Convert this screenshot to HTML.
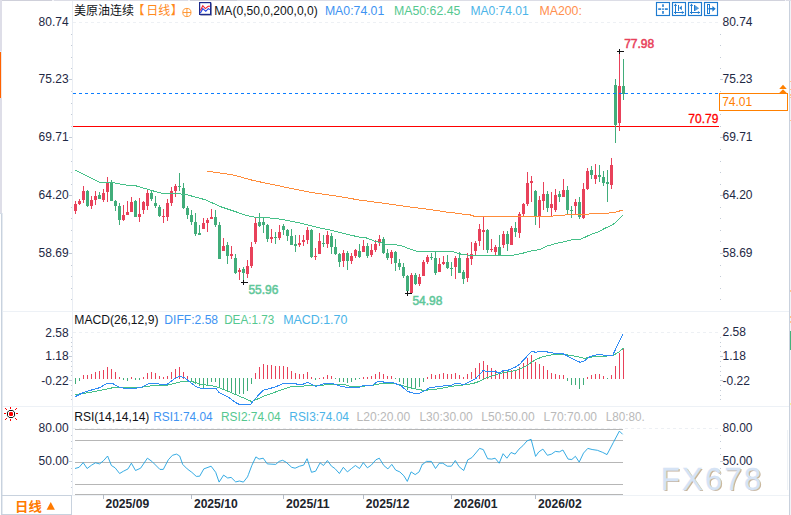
<!DOCTYPE html><html><head><meta charset="utf-8"><title>chart</title>
<style>html,body{margin:0;padding:0;background:#fff;}body{width:791px;height:515px;overflow:hidden;font-family:"Liberation Sans",sans-serif;}svg{display:block}text{font-family:"Liberation Sans",sans-serif;}</style></head><body>
<svg width="791" height="515" viewBox="0 0 791 515" font-family="Liberation Sans, sans-serif">
<rect width="791" height="515" fill="#fff"/>
<g shape-rendering="crispEdges">
<rect x="0" y="0" width="791" height="1" fill="#dcdde6"/>
<rect x="0" y="0" width="52" height="1" fill="#cfd0da"/>
<rect x="52" y="0" width="2" height="1" fill="#f4f4f8"/>
<rect x="190" y="0" width="47" height="1" fill="#cfd0da"/>
<rect x="188" y="0" width="2" height="1" fill="#f4f4f8"/>
<rect x="700" y="0" width="85" height="1" fill="#d2d3dd"/>
<rect x="785" y="0" width="1" height="1" fill="#f4f4f8"/>
<rect x="0" y="0" width="2" height="213" fill="#dedee8"/>
<rect x="0" y="51" width="2" height="1" fill="#e2ecfb"/>
<rect x="0" y="52" width="1" height="46" fill="#ff6200"/><rect x="1" y="52" width="1" height="46" fill="#f1e6e2"/>
<rect x="1" y="213" width="1" height="302" fill="#c8d2de"/><rect x="2" y="213" width="1" height="302" fill="#e6ebf1"/>
<rect x="0" y="213" width="2" height="1" fill="#d3dbe6"/>
<rect x="789" y="1" width="1" height="514" fill="#c9d1dd"/>
<rect x="790" y="1" width="1" height="514" fill="#f1f3f7"/>
<rect x="787" y="430" width="1" height="60" fill="#eef2f6"/>
<rect x="790" y="331" width="1" height="19" fill="#43b37b"/>
<rect x="790" y="81" width="1" height="1" fill="#ffc48c"/>
<rect x="790" y="89" width="1" height="1" fill="#ffc48c"/>
<rect x="790" y="94" width="1" height="2" fill="#ffc48c"/>
<rect x="790" y="97" width="1" height="1" fill="#ffc48c"/>
<rect x="790" y="120" width="1" height="1" fill="#ffc48c"/>
<rect x="790" y="290" width="1" height="2" fill="#ffc48c"/>
<rect x="790" y="316" width="1" height="2" fill="#ffc48c"/>
<rect x="790" y="321" width="1" height="2" fill="#ffc48c"/>
<rect x="790" y="403" width="1" height="2" fill="#f6ee9a"/>
<rect x="72" y="1" width="1" height="495" fill="#e9edf3"/>
<rect x="3" y="311" width="786" height="1" fill="#edf1f6"/>
<rect x="3" y="406" width="786" height="1" fill="#edf1f6"/>
<rect x="72" y="495" width="717" height="1" fill="#eef2f6"/>
<rect x="1" y="495" width="71" height="1" fill="#c8d2de"/>
<rect x="71" y="495" width="1" height="20" fill="#c8d2de"/>
<rect x="1" y="514" width="71" height="1" fill="#c8d2de"/>
<line x1="73" y1="22.5" x2="720" y2="22.5" stroke="#edf0f4" stroke-width="1" stroke-dasharray="3,3"/>
<line x1="73" y1="332.5" x2="720" y2="332.5" stroke="#edf0f4" stroke-width="1" stroke-dasharray="3,3"/>
<line x1="73" y1="428.5" x2="720" y2="428.5" stroke="#edf0f4" stroke-width="1" stroke-dasharray="3,3"/>
<rect x="71" y="34" width="1" height="1" fill="#c3cbd6"/><rect x="720" y="34" width="1" height="1" fill="#c3cbd6"/>
<rect x="71" y="45" width="1" height="1" fill="#c3cbd6"/><rect x="720" y="45" width="1" height="1" fill="#c3cbd6"/>
<rect x="71" y="57" width="1" height="1" fill="#c3cbd6"/><rect x="720" y="57" width="1" height="1" fill="#c3cbd6"/>
<rect x="71" y="68" width="1" height="1" fill="#c3cbd6"/><rect x="720" y="68" width="1" height="1" fill="#c3cbd6"/>
<rect x="69" y="79" width="3" height="1" fill="#c3cbd6"/><rect x="720" y="79" width="3" height="1" fill="#c3cbd6"/>
<rect x="71" y="91" width="1" height="1" fill="#c3cbd6"/><rect x="720" y="91" width="1" height="1" fill="#c3cbd6"/>
<rect x="71" y="103" width="1" height="1" fill="#c3cbd6"/><rect x="720" y="103" width="1" height="1" fill="#c3cbd6"/>
<rect x="71" y="114" width="1" height="1" fill="#c3cbd6"/><rect x="720" y="114" width="1" height="1" fill="#c3cbd6"/>
<rect x="71" y="126" width="1" height="1" fill="#c3cbd6"/><rect x="720" y="126" width="1" height="1" fill="#c3cbd6"/>
<rect x="69" y="137" width="3" height="1" fill="#c3cbd6"/><rect x="720" y="137" width="3" height="1" fill="#c3cbd6"/>
<rect x="71" y="149" width="1" height="1" fill="#c3cbd6"/><rect x="720" y="149" width="1" height="1" fill="#c3cbd6"/>
<rect x="71" y="161" width="1" height="1" fill="#c3cbd6"/><rect x="720" y="161" width="1" height="1" fill="#c3cbd6"/>
<rect x="71" y="172" width="1" height="1" fill="#c3cbd6"/><rect x="720" y="172" width="1" height="1" fill="#c3cbd6"/>
<rect x="71" y="184" width="1" height="1" fill="#c3cbd6"/><rect x="720" y="184" width="1" height="1" fill="#c3cbd6"/>
<rect x="69" y="195" width="3" height="1" fill="#c3cbd6"/><rect x="720" y="195" width="3" height="1" fill="#c3cbd6"/>
<rect x="71" y="207" width="1" height="1" fill="#c3cbd6"/><rect x="720" y="207" width="1" height="1" fill="#c3cbd6"/>
<rect x="71" y="218" width="1" height="1" fill="#c3cbd6"/><rect x="720" y="218" width="1" height="1" fill="#c3cbd6"/>
<rect x="71" y="230" width="1" height="1" fill="#c3cbd6"/><rect x="720" y="230" width="1" height="1" fill="#c3cbd6"/>
<rect x="71" y="241" width="1" height="1" fill="#c3cbd6"/><rect x="720" y="241" width="1" height="1" fill="#c3cbd6"/>
<rect x="69" y="253" width="3" height="1" fill="#c3cbd6"/><rect x="720" y="253" width="3" height="1" fill="#c3cbd6"/>
<rect x="71" y="265" width="1" height="1" fill="#c3cbd6"/><rect x="720" y="265" width="1" height="1" fill="#c3cbd6"/>
<rect x="71" y="276" width="1" height="1" fill="#c3cbd6"/><rect x="720" y="276" width="1" height="1" fill="#c3cbd6"/>
<rect x="71" y="288" width="1" height="1" fill="#c3cbd6"/><rect x="720" y="288" width="1" height="1" fill="#c3cbd6"/>
<rect x="71" y="299" width="1" height="1" fill="#c3cbd6"/><rect x="720" y="299" width="1" height="1" fill="#c3cbd6"/>
<rect x="71" y="337" width="1" height="1" fill="#c3cbd6"/><rect x="720" y="337" width="1" height="1" fill="#c3cbd6"/>
<rect x="71" y="342" width="1" height="1" fill="#c3cbd6"/><rect x="720" y="342" width="1" height="1" fill="#c3cbd6"/>
<rect x="71" y="346" width="1" height="1" fill="#c3cbd6"/><rect x="720" y="346" width="1" height="1" fill="#c3cbd6"/>
<rect x="71" y="351" width="1" height="1" fill="#c3cbd6"/><rect x="720" y="351" width="1" height="1" fill="#c3cbd6"/>
<rect x="69" y="356" width="3" height="1" fill="#c3cbd6"/><rect x="720" y="356" width="3" height="1" fill="#c3cbd6"/>
<rect x="71" y="361" width="1" height="1" fill="#c3cbd6"/><rect x="720" y="361" width="1" height="1" fill="#c3cbd6"/>
<rect x="71" y="366" width="1" height="1" fill="#c3cbd6"/><rect x="720" y="366" width="1" height="1" fill="#c3cbd6"/>
<rect x="71" y="371" width="1" height="1" fill="#c3cbd6"/><rect x="720" y="371" width="1" height="1" fill="#c3cbd6"/>
<rect x="71" y="375" width="1" height="1" fill="#c3cbd6"/><rect x="720" y="375" width="1" height="1" fill="#c3cbd6"/>
<rect x="69" y="380" width="3" height="1" fill="#c3cbd6"/><rect x="720" y="380" width="3" height="1" fill="#c3cbd6"/>
<rect x="71" y="385" width="1" height="1" fill="#c3cbd6"/><rect x="720" y="385" width="1" height="1" fill="#c3cbd6"/>
<rect x="71" y="390" width="1" height="1" fill="#c3cbd6"/><rect x="720" y="390" width="1" height="1" fill="#c3cbd6"/>
<rect x="71" y="395" width="1" height="1" fill="#c3cbd6"/><rect x="720" y="395" width="1" height="1" fill="#c3cbd6"/>
<rect x="71" y="399" width="1" height="1" fill="#c3cbd6"/><rect x="720" y="399" width="1" height="1" fill="#c3cbd6"/>
<rect x="71" y="435" width="1" height="1" fill="#c3cbd6"/><rect x="720" y="435" width="1" height="1" fill="#c3cbd6"/>
<rect x="71" y="441" width="1" height="1" fill="#c3cbd6"/><rect x="720" y="441" width="1" height="1" fill="#c3cbd6"/>
<rect x="71" y="448" width="1" height="1" fill="#c3cbd6"/><rect x="720" y="448" width="1" height="1" fill="#c3cbd6"/>
<rect x="71" y="454" width="1" height="1" fill="#c3cbd6"/><rect x="720" y="454" width="1" height="1" fill="#c3cbd6"/>
<rect x="69" y="461" width="3" height="1" fill="#c3cbd6"/><rect x="720" y="461" width="3" height="1" fill="#c3cbd6"/>
<rect x="71" y="468" width="1" height="1" fill="#c3cbd6"/><rect x="720" y="468" width="1" height="1" fill="#c3cbd6"/>
<rect x="71" y="474" width="1" height="1" fill="#c3cbd6"/><rect x="720" y="474" width="1" height="1" fill="#c3cbd6"/>
<rect x="71" y="481" width="1" height="1" fill="#c3cbd6"/><rect x="720" y="481" width="1" height="1" fill="#c3cbd6"/>
<rect x="71" y="487" width="1" height="1" fill="#c3cbd6"/><rect x="720" y="487" width="1" height="1" fill="#c3cbd6"/>
<rect x="75" y="429" width="548" height="1" fill="#b6b6b6"/>
<rect x="75" y="440" width="548" height="1" fill="#b6b6b6"/>
<rect x="75" y="462" width="548" height="1" fill="#b6b6b6"/>
<rect x="75" y="484" width="548" height="1" fill="#b6b6b6"/>
<rect x="75" y="494" width="548" height="1" fill="#b6b6b6"/>
<rect x="103" y="495" width="1" height="4" fill="#b4bcc8"/>
<rect x="191" y="495" width="1" height="4" fill="#b4bcc8"/>
<rect x="283" y="495" width="1" height="4" fill="#b4bcc8"/>
<rect x="363" y="495" width="1" height="4" fill="#b4bcc8"/>
<rect x="451" y="495" width="1" height="4" fill="#b4bcc8"/>
<rect x="535" y="495" width="1" height="4" fill="#b4bcc8"/>
</g>
<rect x="73" y="126" width="646" height="1" fill="#ff0000" shape-rendering="crispEdges"/>
<g shape-rendering="crispEdges">
<rect x="75" y="201" width="1" height="13" fill="#e8415a"/><rect x="74" y="204" width="3" height="7" fill="#e8415a"/>
<rect x="79" y="199" width="1" height="6" fill="#e8415a"/><rect x="78" y="201" width="3" height="3" fill="#e8415a"/>
<rect x="83" y="186" width="1" height="17" fill="#e8415a"/><rect x="82" y="191" width="3" height="9" fill="#e8415a"/>
<rect x="87" y="190" width="1" height="17" fill="#41ad7a"/><rect x="86" y="191" width="3" height="15" fill="#41ad7a"/>
<rect x="91" y="196" width="1" height="13" fill="#e8415a"/><rect x="90" y="200" width="3" height="6" fill="#e8415a"/>
<rect x="95" y="191" width="1" height="14" fill="#e8415a"/><rect x="94" y="196" width="3" height="4" fill="#e8415a"/>
<rect x="99" y="192" width="1" height="7" fill="#41ad7a"/><rect x="98" y="195" width="3" height="4" fill="#41ad7a"/>
<rect x="103" y="189" width="1" height="13" fill="#e8415a"/><rect x="102" y="193" width="3" height="7" fill="#e8415a"/>
<rect x="107" y="177" width="1" height="25" fill="#e8415a"/><rect x="106" y="183" width="3" height="9" fill="#e8415a"/>
<rect x="111" y="180" width="1" height="21" fill="#41ad7a"/><rect x="110" y="182" width="3" height="19" fill="#41ad7a"/>
<rect x="115" y="200" width="1" height="11" fill="#41ad7a"/><rect x="114" y="201" width="3" height="5" fill="#41ad7a"/>
<rect x="119" y="203" width="1" height="22" fill="#41ad7a"/><rect x="118" y="206" width="3" height="14" fill="#41ad7a"/>
<rect x="123" y="205" width="1" height="16" fill="#e8415a"/><rect x="122" y="215" width="3" height="5" fill="#e8415a"/>
<rect x="127" y="201" width="1" height="14" fill="#e8415a"/><rect x="126" y="212" width="3" height="3" fill="#e8415a"/>
<rect x="131" y="197" width="1" height="15" fill="#e8415a"/><rect x="130" y="202" width="3" height="10" fill="#e8415a"/>
<rect x="135" y="200" width="1" height="17" fill="#41ad7a"/><rect x="134" y="201" width="3" height="16" fill="#41ad7a"/>
<rect x="139" y="198" width="1" height="24" fill="#e8415a"/><rect x="138" y="214" width="3" height="3" fill="#e8415a"/>
<rect x="143" y="201" width="1" height="13" fill="#e8415a"/><rect x="142" y="202" width="3" height="8" fill="#e8415a"/>
<rect x="147" y="190" width="1" height="20" fill="#e8415a"/><rect x="146" y="193" width="3" height="13" fill="#e8415a"/>
<rect x="151" y="190" width="1" height="11" fill="#41ad7a"/><rect x="150" y="193" width="3" height="6" fill="#41ad7a"/>
<rect x="155" y="196" width="1" height="12" fill="#41ad7a"/><rect x="154" y="203" width="3" height="3" fill="#41ad7a"/>
<rect x="159" y="205" width="1" height="12" fill="#41ad7a"/><rect x="158" y="207" width="3" height="9" fill="#41ad7a"/>
<rect x="163" y="209" width="1" height="14" fill="#e8415a"/><rect x="162" y="216" width="3" height="1" fill="#e8415a"/>
<rect x="167" y="199" width="1" height="22" fill="#e8415a"/><rect x="166" y="203" width="3" height="14" fill="#e8415a"/>
<rect x="171" y="187" width="1" height="19" fill="#e8415a"/><rect x="170" y="191" width="3" height="12" fill="#e8415a"/>
<rect x="175" y="184" width="1" height="13" fill="#e8415a"/><rect x="174" y="186" width="3" height="5" fill="#e8415a"/>
<rect x="179" y="173" width="1" height="18" fill="#41ad7a"/><rect x="178" y="186" width="3" height="1" fill="#41ad7a"/>
<rect x="183" y="183" width="1" height="26" fill="#41ad7a"/><rect x="182" y="188" width="3" height="20" fill="#41ad7a"/>
<rect x="187" y="206" width="1" height="13" fill="#41ad7a"/><rect x="186" y="208" width="3" height="7" fill="#41ad7a"/>
<rect x="191" y="210" width="1" height="15" fill="#41ad7a"/><rect x="190" y="215" width="3" height="7" fill="#41ad7a"/>
<rect x="195" y="213" width="1" height="23" fill="#41ad7a"/><rect x="194" y="222" width="3" height="12" fill="#41ad7a"/>
<rect x="199" y="225" width="1" height="10" fill="#41ad7a"/><rect x="198" y="233" width="3" height="2" fill="#41ad7a"/>
<rect x="203" y="218" width="1" height="11" fill="#e8415a"/><rect x="202" y="223" width="3" height="6" fill="#e8415a"/>
<rect x="207" y="218" width="1" height="14" fill="#e8415a"/><rect x="206" y="220" width="3" height="3" fill="#e8415a"/>
<rect x="211" y="209" width="1" height="10" fill="#e8415a"/><rect x="210" y="217" width="3" height="2" fill="#e8415a"/>
<rect x="215" y="210" width="1" height="17" fill="#41ad7a"/><rect x="214" y="217" width="3" height="8" fill="#41ad7a"/>
<rect x="219" y="222" width="1" height="37" fill="#41ad7a"/><rect x="218" y="225" width="3" height="34" fill="#41ad7a"/>
<rect x="223" y="238" width="1" height="13" fill="#e8415a"/><rect x="222" y="246" width="3" height="5" fill="#e8415a"/>
<rect x="227" y="242" width="1" height="22" fill="#41ad7a"/><rect x="226" y="245" width="3" height="11" fill="#41ad7a"/>
<rect x="231" y="246" width="1" height="13" fill="#e8415a"/><rect x="230" y="254" width="3" height="2" fill="#e8415a"/>
<rect x="235" y="254" width="1" height="20" fill="#41ad7a"/><rect x="234" y="258" width="3" height="15" fill="#41ad7a"/>
<rect x="239" y="268" width="1" height="12" fill="#e8415a"/><rect x="238" y="270" width="3" height="2" fill="#e8415a"/>
<rect x="243" y="267" width="1" height="14" fill="#41ad7a"/><rect x="242" y="269" width="3" height="4" fill="#41ad7a"/>
<rect x="247" y="260" width="1" height="18" fill="#e8415a"/><rect x="246" y="266" width="3" height="8" fill="#e8415a"/>
<rect x="251" y="242" width="1" height="26" fill="#e8415a"/><rect x="250" y="247" width="3" height="19" fill="#e8415a"/>
<rect x="255" y="218" width="1" height="26" fill="#e8415a"/><rect x="254" y="223" width="3" height="19" fill="#e8415a"/>
<rect x="259" y="213" width="1" height="14" fill="#41ad7a"/><rect x="258" y="222" width="3" height="4" fill="#41ad7a"/>
<rect x="263" y="218" width="1" height="15" fill="#41ad7a"/><rect x="262" y="222" width="3" height="3" fill="#41ad7a"/>
<rect x="267" y="224" width="1" height="18" fill="#41ad7a"/><rect x="266" y="225" width="3" height="14" fill="#41ad7a"/>
<rect x="271" y="229" width="1" height="14" fill="#e8415a"/><rect x="270" y="237" width="3" height="2" fill="#e8415a"/>
<rect x="275" y="232" width="1" height="12" fill="#41ad7a"/><rect x="274" y="237" width="3" height="1" fill="#41ad7a"/>
<rect x="279" y="225" width="1" height="15" fill="#e8415a"/><rect x="278" y="232" width="3" height="6" fill="#e8415a"/>
<rect x="283" y="224" width="1" height="11" fill="#41ad7a"/><rect x="282" y="226" width="3" height="4" fill="#41ad7a"/>
<rect x="287" y="229" width="1" height="12" fill="#41ad7a"/><rect x="286" y="230" width="3" height="6" fill="#41ad7a"/>
<rect x="291" y="229" width="1" height="16" fill="#41ad7a"/><rect x="290" y="236" width="3" height="9" fill="#41ad7a"/>
<rect x="295" y="235" width="1" height="17" fill="#41ad7a"/><rect x="294" y="244" width="3" height="2" fill="#41ad7a"/>
<rect x="299" y="235" width="1" height="12" fill="#e8415a"/><rect x="298" y="243" width="3" height="2" fill="#e8415a"/>
<rect x="303" y="235" width="1" height="11" fill="#e8415a"/><rect x="302" y="240" width="3" height="2" fill="#e8415a"/>
<rect x="307" y="227" width="1" height="17" fill="#e8415a"/><rect x="306" y="230" width="3" height="10" fill="#e8415a"/>
<rect x="311" y="229" width="1" height="29" fill="#41ad7a"/><rect x="310" y="230" width="3" height="27" fill="#41ad7a"/>
<rect x="315" y="248" width="1" height="12" fill="#e8415a"/><rect x="314" y="256" width="3" height="1" fill="#e8415a"/>
<rect x="319" y="233" width="1" height="21" fill="#e8415a"/><rect x="318" y="241" width="3" height="13" fill="#e8415a"/>
<rect x="323" y="235" width="1" height="12" fill="#41ad7a"/><rect x="322" y="243" width="3" height="1" fill="#41ad7a"/>
<rect x="327" y="231" width="1" height="17" fill="#e8415a"/><rect x="326" y="235" width="3" height="9" fill="#e8415a"/>
<rect x="331" y="233" width="1" height="21" fill="#41ad7a"/><rect x="330" y="236" width="3" height="11" fill="#41ad7a"/>
<rect x="335" y="239" width="1" height="16" fill="#41ad7a"/><rect x="334" y="247" width="3" height="7" fill="#41ad7a"/>
<rect x="339" y="253" width="1" height="14" fill="#41ad7a"/><rect x="338" y="254" width="3" height="8" fill="#41ad7a"/>
<rect x="343" y="250" width="1" height="17" fill="#e8415a"/><rect x="342" y="253" width="3" height="8" fill="#e8415a"/>
<rect x="347" y="251" width="1" height="19" fill="#41ad7a"/><rect x="346" y="253" width="3" height="8" fill="#41ad7a"/>
<rect x="351" y="253" width="1" height="11" fill="#e8415a"/><rect x="350" y="256" width="3" height="5" fill="#e8415a"/>
<rect x="355" y="249" width="1" height="9" fill="#e8415a"/><rect x="354" y="250" width="3" height="6" fill="#e8415a"/>
<rect x="359" y="244" width="1" height="14" fill="#41ad7a"/><rect x="358" y="251" width="3" height="6" fill="#41ad7a"/>
<rect x="363" y="240" width="1" height="12" fill="#e8415a"/><rect x="362" y="246" width="3" height="6" fill="#e8415a"/>
<rect x="367" y="243" width="1" height="15" fill="#41ad7a"/><rect x="366" y="246" width="3" height="10" fill="#41ad7a"/>
<rect x="371" y="244" width="1" height="13" fill="#e8415a"/><rect x="370" y="250" width="3" height="5" fill="#e8415a"/>
<rect x="375" y="240" width="1" height="12" fill="#e8415a"/><rect x="374" y="244" width="3" height="6" fill="#e8415a"/>
<rect x="379" y="235" width="1" height="11" fill="#e8415a"/><rect x="378" y="239" width="3" height="4" fill="#e8415a"/>
<rect x="383" y="237" width="1" height="17" fill="#41ad7a"/><rect x="382" y="239" width="3" height="14" fill="#41ad7a"/>
<rect x="387" y="249" width="1" height="11" fill="#41ad7a"/><rect x="386" y="253" width="3" height="5" fill="#41ad7a"/>
<rect x="391" y="250" width="1" height="14" fill="#e8415a"/><rect x="390" y="252" width="3" height="6" fill="#e8415a"/>
<rect x="395" y="251" width="1" height="20" fill="#41ad7a"/><rect x="394" y="252" width="3" height="11" fill="#41ad7a"/>
<rect x="399" y="259" width="1" height="11" fill="#41ad7a"/><rect x="398" y="263" width="3" height="4" fill="#41ad7a"/>
<rect x="403" y="263" width="1" height="15" fill="#41ad7a"/><rect x="402" y="267" width="3" height="9" fill="#41ad7a"/>
<rect x="407" y="275" width="1" height="18" fill="#41ad7a"/><rect x="406" y="276" width="3" height="15" fill="#41ad7a"/>
<rect x="411" y="273" width="1" height="20" fill="#e8415a"/><rect x="410" y="275" width="3" height="18" fill="#e8415a"/>
<rect x="415" y="273" width="1" height="12" fill="#41ad7a"/><rect x="414" y="275" width="3" height="9" fill="#41ad7a"/>
<rect x="419" y="274" width="1" height="12" fill="#e8415a"/><rect x="418" y="277" width="3" height="7" fill="#e8415a"/>
<rect x="423" y="260" width="1" height="16" fill="#e8415a"/><rect x="422" y="262" width="3" height="14" fill="#e8415a"/>
<rect x="427" y="255" width="1" height="9" fill="#e8415a"/><rect x="426" y="257" width="3" height="5" fill="#e8415a"/>
<rect x="431" y="253" width="1" height="7" fill="#41ad7a"/><rect x="430" y="257" width="3" height="1" fill="#41ad7a"/>
<rect x="435" y="252" width="1" height="23" fill="#41ad7a"/><rect x="434" y="258" width="3" height="15" fill="#41ad7a"/>
<rect x="439" y="258" width="1" height="14" fill="#e8415a"/><rect x="438" y="264" width="3" height="8" fill="#e8415a"/>
<rect x="443" y="256" width="1" height="9" fill="#e8415a"/><rect x="442" y="262" width="3" height="2" fill="#e8415a"/>
<rect x="447" y="255" width="1" height="14" fill="#41ad7a"/><rect x="446" y="262" width="3" height="6" fill="#41ad7a"/>
<rect x="451" y="262" width="1" height="14" fill="#41ad7a"/><rect x="450" y="268" width="3" height="1" fill="#41ad7a"/>
<rect x="455" y="256" width="1" height="23" fill="#e8415a"/><rect x="454" y="258" width="3" height="9" fill="#e8415a"/>
<rect x="459" y="252" width="1" height="21" fill="#41ad7a"/><rect x="458" y="258" width="3" height="15" fill="#41ad7a"/>
<rect x="463" y="270" width="1" height="14" fill="#41ad7a"/><rect x="462" y="272" width="3" height="7" fill="#41ad7a"/>
<rect x="467" y="253" width="1" height="29" fill="#e8415a"/><rect x="466" y="258" width="3" height="20" fill="#e8415a"/>
<rect x="471" y="242" width="1" height="23" fill="#e8415a"/><rect x="470" y="254" width="3" height="5" fill="#e8415a"/>
<rect x="475" y="241" width="1" height="14" fill="#e8415a"/><rect x="474" y="243" width="3" height="8" fill="#e8415a"/>
<rect x="479" y="224" width="1" height="22" fill="#e8415a"/><rect x="478" y="229" width="3" height="12" fill="#e8415a"/>
<rect x="483" y="217" width="1" height="33" fill="#e8415a"/><rect x="482" y="230" width="3" height="2" fill="#e8415a"/>
<rect x="487" y="229" width="1" height="24" fill="#41ad7a"/><rect x="486" y="230" width="3" height="20" fill="#41ad7a"/>
<rect x="491" y="239" width="1" height="13" fill="#e8415a"/><rect x="490" y="249" width="3" height="1" fill="#e8415a"/>
<rect x="495" y="245" width="1" height="10" fill="#e8415a"/><rect x="494" y="247" width="3" height="5" fill="#e8415a"/>
<rect x="499" y="235" width="1" height="20" fill="#41ad7a"/><rect x="498" y="247" width="3" height="8" fill="#41ad7a"/>
<rect x="503" y="231" width="1" height="17" fill="#e8415a"/><rect x="502" y="234" width="3" height="11" fill="#e8415a"/>
<rect x="507" y="231" width="1" height="20" fill="#41ad7a"/><rect x="506" y="234" width="3" height="10" fill="#41ad7a"/>
<rect x="511" y="226" width="1" height="19" fill="#e8415a"/><rect x="510" y="228" width="3" height="17" fill="#e8415a"/>
<rect x="515" y="222" width="1" height="15" fill="#41ad7a"/><rect x="514" y="228" width="3" height="4" fill="#41ad7a"/>
<rect x="519" y="212" width="1" height="26" fill="#e8415a"/><rect x="518" y="214" width="3" height="19" fill="#e8415a"/>
<rect x="523" y="203" width="1" height="14" fill="#e8415a"/><rect x="522" y="204" width="3" height="10" fill="#e8415a"/>
<rect x="527" y="172" width="1" height="34" fill="#e8415a"/><rect x="526" y="183" width="3" height="21" fill="#e8415a"/>
<rect x="531" y="176" width="1" height="26" fill="#e8415a"/><rect x="530" y="181" width="3" height="2" fill="#e8415a"/>
<rect x="535" y="190" width="1" height="35" fill="#41ad7a"/><rect x="534" y="191" width="3" height="25" fill="#41ad7a"/>
<rect x="539" y="196" width="1" height="32" fill="#e8415a"/><rect x="538" y="200" width="3" height="16" fill="#e8415a"/>
<rect x="543" y="182" width="1" height="28" fill="#e8415a"/><rect x="542" y="194" width="3" height="7" fill="#e8415a"/>
<rect x="547" y="191" width="1" height="21" fill="#41ad7a"/><rect x="546" y="194" width="3" height="14" fill="#41ad7a"/>
<rect x="551" y="192" width="1" height="25" fill="#e8415a"/><rect x="550" y="204" width="3" height="4" fill="#e8415a"/>
<rect x="555" y="189" width="1" height="23" fill="#e8415a"/><rect x="554" y="195" width="3" height="15" fill="#e8415a"/>
<rect x="559" y="191" width="1" height="11" fill="#41ad7a"/><rect x="558" y="194" width="3" height="3" fill="#41ad7a"/>
<rect x="563" y="179" width="1" height="18" fill="#e8415a"/><rect x="562" y="190" width="3" height="7" fill="#e8415a"/>
<rect x="567" y="186" width="1" height="28" fill="#41ad7a"/><rect x="566" y="190" width="3" height="20" fill="#41ad7a"/>
<rect x="571" y="206" width="1" height="12" fill="#41ad7a"/><rect x="570" y="210" width="3" height="1" fill="#41ad7a"/>
<rect x="575" y="199" width="1" height="15" fill="#e8415a"/><rect x="574" y="202" width="3" height="4" fill="#e8415a"/>
<rect x="579" y="197" width="1" height="22" fill="#41ad7a"/><rect x="578" y="202" width="3" height="15" fill="#41ad7a"/>
<rect x="583" y="183" width="1" height="36" fill="#e8415a"/><rect x="582" y="189" width="3" height="29" fill="#e8415a"/>
<rect x="587" y="168" width="1" height="22" fill="#e8415a"/><rect x="586" y="171" width="3" height="18" fill="#e8415a"/>
<rect x="591" y="166" width="1" height="13" fill="#41ad7a"/><rect x="590" y="170" width="3" height="5" fill="#41ad7a"/>
<rect x="595" y="164" width="1" height="20" fill="#e8415a"/><rect x="594" y="175" width="3" height="4" fill="#e8415a"/>
<rect x="599" y="165" width="1" height="17" fill="#41ad7a"/><rect x="598" y="175" width="3" height="2" fill="#41ad7a"/>
<rect x="603" y="171" width="1" height="15" fill="#41ad7a"/><rect x="602" y="177" width="3" height="6" fill="#41ad7a"/>
<rect x="607" y="170" width="1" height="32" fill="#41ad7a"/><rect x="606" y="182" width="3" height="2" fill="#41ad7a"/>
<rect x="611" y="158" width="1" height="31" fill="#e8415a"/><rect x="610" y="165" width="3" height="20" fill="#e8415a"/>
<rect x="615" y="79" width="1" height="64" fill="#41ad7a"/><rect x="614" y="85" width="3" height="40" fill="#41ad7a"/>
<rect x="619" y="51" width="1" height="80" fill="#e8415a"/><rect x="618" y="86" width="3" height="37" fill="#e8415a"/>
<rect x="623" y="59" width="1" height="41" fill="#41ad7a"/><rect x="622" y="86" width="3" height="8" fill="#41ad7a"/>
</g>
<polyline points="75.0,170.0 99.3,182.3 113.0,182.6 125.6,185.0 133.2,185.0 150.9,190.3 162.3,193.4 169.6,193.4 185.9,194.3 189.0,195.3 205.5,199.8 220.6,206.7 235.8,211.8 247.2,215.6 254.8,217.2 264.9,217.2 273.3,218.6 280.9,219.1 301.7,223.3 318.2,227.7 330.8,230.2 348.5,234.7 359.9,237.2 365.7,237.7 374.6,241.1 385.3,244.0 400.5,245.3 408.1,248.4 418.2,251.6 453.6,251.6 455.0,252.4 462.6,254.6 470.2,255.3 512.0,255.3 520.8,253.7 530.9,251.1 540.0,249.4 547.6,245.9 556.4,243.4 565.3,241.5 573.5,239.2 581.1,239.0 590.6,234.6 596.9,232.5 605.7,227.9 612.1,225.1 615.9,222.2 622.8,215.0" fill="none" stroke="#45c088" stroke-width="1" stroke-linejoin="round" shape-rendering="crispEdges"/>
<polyline points="207.1,171.1 217.5,172.6 233.9,175.1 252.2,180.2 260.0,181.9 285.3,187.2 310.6,192.3 335.9,196.0 361.1,200.3 386.4,203.6 411.7,207.2 437.0,210.5 450.0,212.6 457.6,213.2 462.6,214.1 469.0,214.5 474.7,216.4 552.0,216.7 553.3,215.5 564.6,215.5 565.9,214.6 588.0,214.6 589.3,213.6 608.2,213.6 609.5,212.4 615.9,212.1 618.4,211.2 622.8,210.4" fill="none" stroke="#ff8c3a" stroke-width="1" stroke-linejoin="round" shape-rendering="crispEdges"/>
<line x1="73" y1="93.5" x2="719" y2="93.5" stroke="#0b7dff" stroke-width="1" stroke-dasharray="3,3" stroke-dashoffset="0" shape-rendering="crispEdges"/>
<path d="M617.0,51.5H624.0M619.5,49.0V54.0" stroke="#111" stroke-width="1" shape-rendering="crispEdges"/>
<path d="M241.0,282.5H248.0M243.5,280.0V285.0" stroke="#111" stroke-width="1" shape-rendering="crispEdges"/>
<path d="M405.0,293.5H412.0M407.5,291.0V296.0" stroke="#111" stroke-width="1" shape-rendering="crispEdges"/>
<text x="624.2" y="47.6" font-size="12" fill="#e8415a" text-anchor="start" font-weight="normal" textLength="30" lengthAdjust="spacingAndGlyphs" stroke="#e8415a" stroke-width="0.5">77.98</text>
<text x="248.4" y="294" font-size="12" fill="#5fc79a" text-anchor="start" font-weight="normal" textLength="30" lengthAdjust="spacingAndGlyphs" stroke="#5fc79a" stroke-width="0.5">55.96</text>
<text x="412.4" y="304.5" font-size="12" fill="#5fc79a" text-anchor="start" font-weight="normal" textLength="30" lengthAdjust="spacingAndGlyphs" stroke="#5fc79a" stroke-width="0.5">54.98</text>
<text x="718.4" y="123" font-size="12" fill="#ff0000" text-anchor="end" font-weight="normal" stroke="#ff0000" stroke-width="0.3">70.79</text>
<g shape-rendering="crispEdges">
<rect x="75" y="378" width="1" height="6" fill="#41ad7a"/>
<rect x="79" y="378" width="1" height="3" fill="#41ad7a"/>
<rect x="83" y="375" width="1" height="4" fill="#e8415a"/>
<rect x="87" y="375" width="1" height="4" fill="#e8415a"/>
<rect x="91" y="374" width="1" height="5" fill="#e8415a"/>
<rect x="95" y="372" width="1" height="7" fill="#e8415a"/>
<rect x="99" y="371" width="1" height="8" fill="#e8415a"/>
<rect x="103" y="370" width="1" height="9" fill="#e8415a"/>
<rect x="107" y="367" width="1" height="12" fill="#e8415a"/>
<rect x="111" y="369" width="1" height="10" fill="#e8415a"/>
<rect x="115" y="372" width="1" height="7" fill="#e8415a"/>
<rect x="119" y="377" width="1" height="2" fill="#e8415a"/>
<rect x="123" y="378" width="1" height="2" fill="#41ad7a"/>
<rect x="127" y="378" width="1" height="3" fill="#41ad7a"/>
<rect x="131" y="377" width="1" height="2" fill="#e8415a"/>
<rect x="135" y="378" width="1" height="2" fill="#41ad7a"/>
<rect x="139" y="378" width="1" height="2" fill="#41ad7a"/>
<rect x="143" y="377" width="1" height="2" fill="#e8415a"/>
<rect x="147" y="373" width="1" height="6" fill="#e8415a"/>
<rect x="151" y="372" width="1" height="7" fill="#e8415a"/>
<rect x="155" y="373" width="1" height="6" fill="#e8415a"/>
<rect x="159" y="376" width="1" height="3" fill="#e8415a"/>
<rect x="163" y="377" width="1" height="2" fill="#e8415a"/>
<rect x="167" y="376" width="1" height="3" fill="#e8415a"/>
<rect x="171" y="372" width="1" height="7" fill="#e8415a"/>
<rect x="175" y="369" width="1" height="10" fill="#e8415a"/>
<rect x="179" y="367" width="1" height="12" fill="#e8415a"/>
<rect x="183" y="372" width="1" height="7" fill="#e8415a"/>
<rect x="187" y="376" width="1" height="3" fill="#e8415a"/>
<rect x="191" y="378" width="1" height="4" fill="#41ad7a"/>
<rect x="195" y="378" width="1" height="6" fill="#41ad7a"/>
<rect x="199" y="378" width="1" height="8" fill="#41ad7a"/>
<rect x="203" y="378" width="1" height="10" fill="#41ad7a"/>
<rect x="207" y="378" width="1" height="7" fill="#41ad7a"/>
<rect x="211" y="378" width="1" height="4" fill="#41ad7a"/>
<rect x="215" y="378" width="1" height="4" fill="#41ad7a"/>
<rect x="219" y="378" width="1" height="10" fill="#41ad7a"/>
<rect x="223" y="378" width="1" height="12" fill="#41ad7a"/>
<rect x="227" y="378" width="1" height="13" fill="#41ad7a"/>
<rect x="231" y="378" width="1" height="15" fill="#41ad7a"/>
<rect x="235" y="378" width="1" height="16" fill="#41ad7a"/>
<rect x="239" y="378" width="1" height="16" fill="#41ad7a"/>
<rect x="243" y="378" width="1" height="16" fill="#41ad7a"/>
<rect x="247" y="378" width="1" height="13" fill="#41ad7a"/>
<rect x="251" y="378" width="1" height="6" fill="#41ad7a"/>
<rect x="255" y="373" width="1" height="6" fill="#e8415a"/>
<rect x="259" y="367" width="1" height="12" fill="#e8415a"/>
<rect x="263" y="364" width="1" height="15" fill="#e8415a"/>
<rect x="267" y="365" width="1" height="14" fill="#e8415a"/>
<rect x="271" y="365" width="1" height="14" fill="#e8415a"/>
<rect x="275" y="366" width="1" height="13" fill="#e8415a"/>
<rect x="279" y="366" width="1" height="13" fill="#e8415a"/>
<rect x="283" y="366" width="1" height="13" fill="#e8415a"/>
<rect x="287" y="367" width="1" height="12" fill="#e8415a"/>
<rect x="291" y="371" width="1" height="8" fill="#e8415a"/>
<rect x="295" y="373" width="1" height="6" fill="#e8415a"/>
<rect x="299" y="374" width="1" height="5" fill="#e8415a"/>
<rect x="303" y="374" width="1" height="5" fill="#e8415a"/>
<rect x="307" y="372" width="1" height="7" fill="#e8415a"/>
<rect x="311" y="377" width="1" height="2" fill="#e8415a"/>
<rect x="315" y="378" width="1" height="2" fill="#41ad7a"/>
<rect x="319" y="378" width="1" height="1" fill="#e8415a"/>
<rect x="323" y="377" width="1" height="2" fill="#e8415a"/>
<rect x="327" y="375" width="1" height="4" fill="#e8415a"/>
<rect x="331" y="376" width="1" height="3" fill="#e8415a"/>
<rect x="335" y="378" width="1" height="1" fill="#41ad7a"/>
<rect x="339" y="378" width="1" height="4" fill="#41ad7a"/>
<rect x="343" y="378" width="1" height="4" fill="#41ad7a"/>
<rect x="347" y="378" width="1" height="5" fill="#41ad7a"/>
<rect x="351" y="378" width="1" height="4" fill="#41ad7a"/>
<rect x="355" y="378" width="1" height="2" fill="#41ad7a"/>
<rect x="359" y="378" width="1" height="1" fill="#41ad7a"/>
<rect x="363" y="377" width="1" height="2" fill="#e8415a"/>
<rect x="367" y="377" width="1" height="2" fill="#e8415a"/>
<rect x="371" y="376" width="1" height="3" fill="#e8415a"/>
<rect x="375" y="374" width="1" height="5" fill="#e8415a"/>
<rect x="379" y="372" width="1" height="7" fill="#e8415a"/>
<rect x="383" y="374" width="1" height="5" fill="#e8415a"/>
<rect x="387" y="376" width="1" height="3" fill="#e8415a"/>
<rect x="391" y="376" width="1" height="3" fill="#e8415a"/>
<rect x="395" y="378" width="1" height="1" fill="#41ad7a"/>
<rect x="399" y="378" width="1" height="4" fill="#41ad7a"/>
<rect x="403" y="378" width="1" height="6" fill="#41ad7a"/>
<rect x="407" y="378" width="1" height="12" fill="#41ad7a"/>
<rect x="411" y="378" width="1" height="11" fill="#41ad7a"/>
<rect x="415" y="378" width="1" height="11" fill="#41ad7a"/>
<rect x="419" y="378" width="1" height="9" fill="#41ad7a"/>
<rect x="423" y="378" width="1" height="4" fill="#41ad7a"/>
<rect x="427" y="377" width="1" height="2" fill="#e8415a"/>
<rect x="431" y="374" width="1" height="5" fill="#e8415a"/>
<rect x="435" y="375" width="1" height="4" fill="#e8415a"/>
<rect x="439" y="374" width="1" height="5" fill="#e8415a"/>
<rect x="443" y="373" width="1" height="6" fill="#e8415a"/>
<rect x="447" y="374" width="1" height="5" fill="#e8415a"/>
<rect x="451" y="374" width="1" height="5" fill="#e8415a"/>
<rect x="455" y="373" width="1" height="6" fill="#e8415a"/>
<rect x="459" y="375" width="1" height="4" fill="#e8415a"/>
<rect x="463" y="377" width="1" height="2" fill="#e8415a"/>
<rect x="467" y="374" width="1" height="5" fill="#e8415a"/>
<rect x="471" y="372" width="1" height="7" fill="#e8415a"/>
<rect x="475" y="368" width="1" height="11" fill="#e8415a"/>
<rect x="479" y="363" width="1" height="16" fill="#e8415a"/>
<rect x="483" y="361" width="1" height="18" fill="#e8415a"/>
<rect x="487" y="365" width="1" height="14" fill="#e8415a"/>
<rect x="491" y="368" width="1" height="11" fill="#e8415a"/>
<rect x="495" y="370" width="1" height="9" fill="#e8415a"/>
<rect x="499" y="374" width="1" height="5" fill="#e8415a"/>
<rect x="503" y="371" width="1" height="8" fill="#e8415a"/>
<rect x="507" y="372" width="1" height="7" fill="#e8415a"/>
<rect x="511" y="370" width="1" height="9" fill="#e8415a"/>
<rect x="515" y="370" width="1" height="9" fill="#e8415a"/>
<rect x="519" y="367" width="1" height="12" fill="#e8415a"/>
<rect x="523" y="363" width="1" height="16" fill="#e8415a"/>
<rect x="527" y="358" width="1" height="21" fill="#e8415a"/>
<rect x="531" y="355" width="1" height="24" fill="#e8415a"/>
<rect x="535" y="362" width="1" height="17" fill="#e8415a"/>
<rect x="539" y="364" width="1" height="15" fill="#e8415a"/>
<rect x="543" y="366" width="1" height="13" fill="#e8415a"/>
<rect x="547" y="370" width="1" height="9" fill="#e8415a"/>
<rect x="551" y="373" width="1" height="6" fill="#e8415a"/>
<rect x="555" y="374" width="1" height="5" fill="#e8415a"/>
<rect x="559" y="375" width="1" height="4" fill="#e8415a"/>
<rect x="563" y="375" width="1" height="4" fill="#e8415a"/>
<rect x="567" y="378" width="1" height="3" fill="#41ad7a"/>
<rect x="571" y="378" width="1" height="7" fill="#41ad7a"/>
<rect x="575" y="378" width="1" height="7" fill="#41ad7a"/>
<rect x="579" y="378" width="1" height="11" fill="#41ad7a"/>
<rect x="583" y="378" width="1" height="7" fill="#41ad7a"/>
<rect x="587" y="377" width="1" height="2" fill="#e8415a"/>
<rect x="591" y="375" width="1" height="4" fill="#e8415a"/>
<rect x="595" y="374" width="1" height="5" fill="#e8415a"/>
<rect x="599" y="374" width="1" height="5" fill="#e8415a"/>
<rect x="603" y="376" width="1" height="3" fill="#e8415a"/>
<rect x="607" y="378" width="1" height="1" fill="#41ad7a"/>
<rect x="611" y="375" width="1" height="4" fill="#e8415a"/>
<rect x="615" y="366" width="1" height="13" fill="#e8415a"/>
<rect x="619" y="353" width="1" height="26" fill="#e8415a"/>
<rect x="623" y="348" width="1" height="31" fill="#e8415a"/>
</g>
<polyline points="75.3,394.5 91.2,392.2 112.5,387.8 140.8,387.4 153.2,385.5 167.3,385.1 183.3,381.2 192.1,381.6 201.0,384.2 209.8,385.5 215.6,386.4 228.0,391.3 240.4,396.6 251.9,401.6 263.4,396.3 275.8,391.9 290.0,386.9 304.0,386.0 318.3,385.5 332.4,384.2 344.8,384.6 348.8,386.0 361.2,386.4 373.6,385.1 382.5,383.4 394.9,383.4 405.5,386.4 417.9,389.6 425.0,390.4 435.6,389.2 446.2,387.4 456.8,385.5 467.4,384.6 474.5,383.0 479.8,381.2 487.1,377.6 499.3,373.5 515.5,370.5 525.6,366.5 535.7,359.4 543.8,356.4 551.9,354.9 564.0,354.3 576.1,356.4 584.2,358.4 592.3,357.0 600.4,356.4 612.5,355.7 618.6,352.3 623.7,347.9" fill="none" stroke="#45c088" stroke-width="1" stroke-linejoin="round" shape-rendering="crispEdges"/>
<polyline points="75.3,396.6 83.3,392.6 91.2,390.1 99.2,387.8 107.2,383.4 112.5,383.4 118.7,386.9 123.1,388.1 128.4,388.1 134.6,388.1 140.8,387.8 149.6,383.4 156.7,383.4 162.0,384.6 167.3,384.2 174.4,378.9 179.7,376.3 185.0,378.1 190.4,382.5 195.7,386.4 202.7,389.0 209.8,388.3 215.6,388.1 219.2,392.7 228.0,397.0 236.0,402.8 238.6,404.1 243.9,405.0 251.0,404.1 252.8,401.1 263.4,390.1 275.8,386.9 282.9,383.4 293.5,383.0 297.0,384.2 303.2,384.2 307.7,382.1 315.6,386.4 325.4,383.4 332.4,383.4 341.3,386.4 347.0,387.4 359.5,387.4 363.0,385.7 371.9,385.7 378.0,381.2 381.6,381.2 386.0,383.0 391.3,382.1 401.0,385.7 407.3,391.3 414.3,393.5 418.8,393.5 425.0,390.4 430.3,387.4 436.5,386.9 446.2,385.5 451.5,385.1 455.9,383.0 463.9,384.6 471.0,381.2 476.3,378.1 483.1,370.5 487.1,371.5 495.2,371.5 499.3,373.1 503.3,370.5 507.4,370.5 515.5,367.1 519.5,364.4 531.6,351.3 535.7,352.3 541.7,351.3 545.8,351.3 549.8,352.9 562.0,353.3 566.0,355.3 572.1,358.4 580.2,362.4 584.2,361.0 590.3,356.4 598.4,354.3 604.4,355.3 612.5,355.7 622.7,334.3" fill="none" stroke="#2f8bf5" stroke-width="1" stroke-linejoin="round" shape-rendering="crispEdges"/>
<polyline points="75.0,468.5 79.1,467.3 83.2,462.6 87.1,468.5 91.6,465.1 95.5,462.8 99.6,463.9 103.7,460.5 107.6,456.0 111.4,465.5 115.1,467.8 119.6,473.5 123.5,471.2 128.0,468.9 131.4,463.2 135.5,470.5 140.6,468.2 147.4,458.2 151.9,461.4 159.9,469.4 163.3,469.4 168.3,459.8 172.4,455.3 176.5,454.1 179.7,456.0 182.7,464.4 187.2,468.9 191.8,472.3 196.3,476.4 199.7,476.2 203.8,468.9 211.1,466.2 215.7,472.3 219.1,482.1 223.6,475.1 227.7,478.0 231.1,477.4 235.7,481.9 239.5,481.0 243.4,482.1 247.5,476.9 248.4,474.6 251.8,465.5 255.9,456.9 259.1,459.1 263.2,458.2 267.3,463.9 275.7,464.4 279.1,461.4 282.6,460.3 286.0,462.1 291.7,467.3 295.1,468.2 299.6,466.2 303.7,465.1 307.1,458.7 311.5,472.3 315.6,471.2 320.1,462.8 323.5,465.5 327.4,460.5 331.5,466.2 334.9,468.5 339.4,473.5 343.3,467.3 347.4,471.9 351.5,468.5 355.4,465.5 359.5,468.5 363.3,462.6 367.4,467.8 371.3,465.1 375.9,459.8 379.3,458.2 383.8,465.5 387.9,468.9 391.8,464.4 395.7,470.1 399.8,471.9 403.9,475.8 407.3,481.4 411.1,471.9 415.2,474.6 419.1,471.9 422.5,463.9 422.7,464.4 426.4,461.4 431.4,461.4 435.5,468.5 439.3,463.2 442.8,463.2 447.3,466.2 451.4,466.2 455.3,460.5 459.1,466.7 463.7,470.5 467.8,459.8 471.9,457.6 475.8,453.0 479.6,448.4 483.3,449.6 487.6,458.7 491.7,459.1 495.1,458.2 499.2,463.2 503.1,453.7 506.9,458.2 511.0,452.5 515.1,454.1 519.0,449.1 522.9,445.7 527.0,440.9 531.1,439.3 535.6,456.4 538.8,451.9 542.9,449.1 547.4,455.3 551.5,454.1 555.4,451.4 559.3,451.9 562.9,450.0 568.1,459.1 571.8,459.5 575.4,456.3 579.2,462.1 583.5,453.1 587.8,448.4 592.1,449.5 597.4,450.3 602.7,452.4 607.0,454.6 613.4,442.4 619.4,431.1 622.6,434.3" fill="none" stroke="#1fa2e0" stroke-width="0.9" stroke-linejoin="round" />
<text x="68.6" y="26" font-size="12" fill="#1e2844" text-anchor="end" font-weight="normal" >80.74</text>
<text x="722.5" y="26" font-size="12" fill="#1e2844" text-anchor="start" font-weight="normal" >80.74</text>
<text x="68.6" y="83" font-size="12" fill="#1e2844" text-anchor="end" font-weight="normal" >75.23</text>
<text x="722.5" y="83" font-size="12" fill="#1e2844" text-anchor="start" font-weight="normal" >75.23</text>
<text x="68.6" y="141" font-size="12" fill="#1e2844" text-anchor="end" font-weight="normal" >69.71</text>
<text x="722.5" y="141" font-size="12" fill="#1e2844" text-anchor="start" font-weight="normal" >69.71</text>
<text x="68.6" y="199" font-size="12" fill="#1e2844" text-anchor="end" font-weight="normal" >64.20</text>
<text x="722.5" y="199" font-size="12" fill="#1e2844" text-anchor="start" font-weight="normal" >64.20</text>
<text x="68.6" y="257" font-size="12" fill="#1e2844" text-anchor="end" font-weight="normal" >58.69</text>
<text x="722.5" y="257" font-size="12" fill="#1e2844" text-anchor="start" font-weight="normal" >58.69</text>
<text x="68.6" y="336.5" font-size="12" fill="#1e2844" text-anchor="end" font-weight="normal" >2.58</text>
<text x="722.5" y="335.7" font-size="12" fill="#1e2844" text-anchor="start" font-weight="normal" >2.58</text>
<text x="68.6" y="360.4" font-size="12" fill="#1e2844" text-anchor="end" font-weight="normal" >1.18</text>
<text x="722.5" y="360.4" font-size="12" fill="#1e2844" text-anchor="start" font-weight="normal" >1.18</text>
<text x="68.6" y="384.9" font-size="12" fill="#1e2844" text-anchor="end" font-weight="normal" >-0.22</text>
<text x="722.5" y="384.9" font-size="12" fill="#1e2844" text-anchor="start" font-weight="normal" >-0.22</text>
<text x="68.6" y="432.3" font-size="12" fill="#1e2844" text-anchor="end" font-weight="normal" >80.00</text>
<text x="722.5" y="432.3" font-size="12" fill="#1e2844" text-anchor="start" font-weight="normal" >80.00</text>
<text x="68.6" y="465.3" font-size="12" fill="#1e2844" text-anchor="end" font-weight="normal" >50.00</text>
<text x="722.5" y="465.3" font-size="12" fill="#1e2844" text-anchor="start" font-weight="normal" >50.00</text>
<rect x="719.5" y="93.5" width="68" height="17" fill="#fff" stroke="#ff8000" stroke-width="1" shape-rendering="crispEdges"/>
<text x="722.2" y="105.9" font-size="12" fill="#ff8000" text-anchor="start" font-weight="normal" >74.01</text>
<path d="M779.2,88.9L783,84.8L786.8,88.9ZM779,93.2L783,89.2L787,93.2Z" fill="#ff8000"/>
<text x="105.4" y="508" font-size="12" fill="#20242c" text-anchor="start" font-weight="bold" textLength="43.8" lengthAdjust="spacingAndGlyphs" >2025/09</text>
<text x="193.9" y="508" font-size="12" fill="#20242c" text-anchor="start" font-weight="bold" textLength="43.8" lengthAdjust="spacingAndGlyphs" >2025/10</text>
<text x="285.9" y="508" font-size="12" fill="#20242c" text-anchor="start" font-weight="bold" textLength="43.8" lengthAdjust="spacingAndGlyphs" >2025/11</text>
<text x="365.7" y="508" font-size="12" fill="#20242c" text-anchor="start" font-weight="bold" textLength="43.8" lengthAdjust="spacingAndGlyphs" >2025/12</text>
<text x="453.8" y="508" font-size="12" fill="#20242c" text-anchor="start" font-weight="bold" textLength="43.8" lengthAdjust="spacingAndGlyphs" >2026/01</text>
<text x="538" y="508" font-size="12" fill="#20242c" text-anchor="start" font-weight="bold" textLength="43.8" lengthAdjust="spacingAndGlyphs" >2026/02</text>
<text x="74" y="15.3" font-size="12" fill="#101216" text-anchor="start" font-weight="normal" textLength="60" lengthAdjust="spacingAndGlyphs" style="font-family:'Liberation Sans','Noto Sans CJK SC',sans-serif">美原油连续</text>
<text x="132.4" y="15.3" font-size="12" fill="#ff8a1c" text-anchor="start" font-weight="normal" style="font-family:'Liberation Sans','Noto Sans CJK SC',sans-serif">【</text>
<text x="146.2" y="15.3" font-size="12" fill="#ff8a1c" text-anchor="start" font-weight="normal" textLength="24" lengthAdjust="spacingAndGlyphs" style="font-family:'Liberation Sans','Noto Sans CJK SC',sans-serif">日线</text>
<text x="170.75" y="15.3" font-size="12" fill="#ff8a1c" text-anchor="start" font-weight="normal" style="font-family:'Liberation Sans','Noto Sans CJK SC',sans-serif">】</text>
<g stroke="#ff8a1c" stroke-width="0.85" fill="none"><circle cx="186.9" cy="12.5" r="4.1"/><path d="M182.8,12.5H191M186.9,8.4V16.6"/></g>
<g><rect x="200.3" y="3.3" width="11.6" height="12.4" fill="#2a2f6a" opacity="0.55"/><rect x="199.6" y="2.6" width="11" height="11.8" fill="#fff" stroke="#1c2a8c" stroke-width="1.2"/><polyline points="200.4,10.6 202.8,5.7 205.3,8.6 208.2,6.3 210,6.3" fill="none" stroke="#f02030" stroke-width="1.1"/><polyline points="200.4,13.1 202.8,8.7 205.8,11.3 208.3,8.6 210,9.6" fill="none" stroke="#2040e0" stroke-width="1.1"/></g>
<text x="214.3" y="14.5" font-size="12" fill="#101216" text-anchor="start" font-weight="normal" textLength="103.4" lengthAdjust="spacingAndGlyphs" >MA(0,50,0,200,0,0)</text>
<text x="324.9" y="14.5" font-size="12" fill="#3e93f2" text-anchor="start" font-weight="normal" textLength="59.4" lengthAdjust="spacingAndGlyphs" >MA0:74.01</text>
<text x="393.9" y="14.5" font-size="12" fill="#55c890" text-anchor="start" font-weight="normal" textLength="66.5" lengthAdjust="spacingAndGlyphs" >MA50:62.45</text>
<text x="470.4" y="14.5" font-size="12" fill="#4bb4e8" text-anchor="start" font-weight="normal" textLength="58.4" lengthAdjust="spacingAndGlyphs" >MA0:74.01</text>
<text x="539.4" y="14.5" font-size="12" fill="#ff8f4e" text-anchor="start" font-weight="normal" textLength="42.5" lengthAdjust="spacingAndGlyphs" >MA200:</text>
<g>
<rect x="656.5" y="2.5" width="13" height="13" fill="#fff" stroke="#1e7bd0" stroke-width="1.15"/>
<rect x="672.5" y="2.5" width="13" height="13" fill="#fff" stroke="#1e7bd0" stroke-width="1.15"/>
<rect x="688.5" y="2.5" width="13" height="13" fill="#fff" stroke="#1e7bd0" stroke-width="1.15"/>
<rect x="704.5" y="2.5" width="13" height="13" fill="#fff" stroke="#1e7bd0" stroke-width="1.15"/>
<g fill="#1e7bd0"><rect x="658.2" y="8.3" width="3" height="1.6"/><rect x="664.8" y="8.3" width="3" height="1.6"/><rect x="662.2" y="4.3" width="1.6" height="2.6"/><rect x="662.2" y="11" width="1.6" height="2.8"/><rect x="662.2" y="8.3" width="1.6" height="1.6"/></g>
<g fill="#1e7bd0" shape-rendering="crispEdges"><rect x="675" y="4" width="1" height="10"/><rect x="674" y="12" width="10" height="1"/></g><path d="M675.5,3.6L673.9,5.9H677.1Z M684.2,12.5L681.9,10.9V14.1Z" fill="#1e7bd0"/>
<g fill="#1e7bd0"><rect x="678" y="5.3" width="1" height="5.2" shape-rendering="crispEdges"/><path d="M679.2,7.9L681.8,5.6V10.2Z"/></g>
<g fill="#1e7bd0" shape-rendering="crispEdges"><rect x="691" y="4" width="1" height="10"/><rect x="690" y="12" width="10" height="1"/></g><path d="M691.5,3.6L689.9,5.9H693.1Z M700.2,12.5L697.9,10.9V14.1Z" fill="#1e7bd0"/>
<g fill="#1e7bd0"><rect x="694" y="5.3" width="1" height="5.6" shape-rendering="crispEdges"/><path d="M695,5.3L699.2,8.2L695,11.1Z" fill-opacity="0.75"/></g>
<rect x="707.5" y="4.5" width="2" height="9" shape-rendering="crispEdges" fill="#fff" stroke="#1e7bd0" stroke-width="1"/><path d="M708.4,8H712.4V6L715.7,8.8L712.4,11.7V9.6H708.4Z" fill="#1e7bd0"/>
</g>
<text x="74.3" y="324.4" font-size="12" fill="#101216" text-anchor="start" font-weight="normal" textLength="84.2" lengthAdjust="spacingAndGlyphs" >MACD(26,12,9)</text>
<text x="164.3" y="324.4" font-size="12" fill="#3e93f2" text-anchor="start" font-weight="normal" textLength="53.8" lengthAdjust="spacingAndGlyphs" >DIFF:2.58</text>
<text x="224.2" y="324.4" font-size="12" fill="#55c890" text-anchor="start" font-weight="normal" textLength="50" lengthAdjust="spacingAndGlyphs" >DEA:1.73</text>
<text x="283.2" y="324.4" font-size="12" fill="#4bb4e8" text-anchor="start" font-weight="normal" textLength="64.2" lengthAdjust="spacingAndGlyphs" >MACD:1.70</text>
<text x="74.2" y="421" font-size="12" fill="#101216" text-anchor="start" font-weight="normal" textLength="75.2" lengthAdjust="spacingAndGlyphs" >RSI(14,14,14)</text>
<text x="153.2" y="421" font-size="12" fill="#3e93f2" text-anchor="start" font-weight="normal" textLength="59.4" lengthAdjust="spacingAndGlyphs" >RSI1:74.04</text>
<text x="221" y="421" font-size="12" fill="#55c890" text-anchor="start" font-weight="normal" textLength="59.7" lengthAdjust="spacingAndGlyphs" >RSI2:74.04</text>
<text x="289.3" y="421" font-size="12" fill="#4bb4e8" text-anchor="start" font-weight="normal" textLength="59.6" lengthAdjust="spacingAndGlyphs" >RSI3:74.04</text>
<text x="356.5" y="421" font-size="12" fill="#b9b9b9" text-anchor="start" font-weight="normal" textLength="53.8" lengthAdjust="spacingAndGlyphs" >L20:20.00</text>
<text x="419.4" y="421" font-size="12" fill="#b9b9b9" text-anchor="start" font-weight="normal" textLength="53.4" lengthAdjust="spacingAndGlyphs" >L30:30.00</text>
<text x="481.3" y="421" font-size="12" fill="#b9b9b9" text-anchor="start" font-weight="normal" textLength="53.4" lengthAdjust="spacingAndGlyphs" >L50:50.00</text>
<text x="543.6" y="421" font-size="12" fill="#b9b9b9" text-anchor="start" font-weight="normal" textLength="53.4" lengthAdjust="spacingAndGlyphs" >L70:70.00</text>
<text x="605.8" y="421" font-size="12" fill="#b9b9b9" text-anchor="start" font-weight="normal" textLength="39" lengthAdjust="spacingAndGlyphs" >L80:80.</text>
<g><path d="M9.2,410.5H12.8L14.5,412.2V415.8L12.8,417.5H9.2L7.5,415.8V412.2Z" fill="#fff" stroke="#111" stroke-width="1"/><rect x="9" y="412" width="4" height="4" rx="1.2" fill="#ff0000"/><g fill="#ff0000" shape-rendering="crispEdges"><rect x="10" y="407" width="1" height="2"/><rect x="10" y="419" width="1" height="2"/><rect x="4" y="413" width="2" height="1"/><rect x="16" y="413" width="2" height="1"/><rect x="5" y="408" width="1" height="1"/><rect x="6" y="409" width="1" height="1"/><rect x="16" y="408" width="1" height="1"/><rect x="15" y="409" width="1" height="1"/><rect x="5" y="419" width="1" height="1"/><rect x="6" y="418" width="1" height="1"/><rect x="16" y="419" width="1" height="1"/><rect x="15" y="418" width="1" height="1"/></g></g>
<text x="15.1" y="510.6" font-size="13" fill="#ff7a00" text-anchor="start" font-weight="bold" textLength="26.7" lengthAdjust="spacingAndGlyphs" style="font-family:'Liberation Sans','Noto Sans CJK SC',sans-serif">日线</text>
<path d="M46.6,509.8L50.75,502L54.9,509.8Z" fill="#ff7a00"/>
<text x="660.8" y="490" font-size="31" letter-spacing="2.3" fill="#c2ad96" opacity="0.95" transform="translate(1.2,1.3)" style="filter:blur(0.5px)">FX678</text>
<text x="660.8" y="490" font-size="31" letter-spacing="2.3" fill="#d5e3f5" stroke="#d5e3f5" stroke-width="0.4">FX678</text>
</svg></body></html>
